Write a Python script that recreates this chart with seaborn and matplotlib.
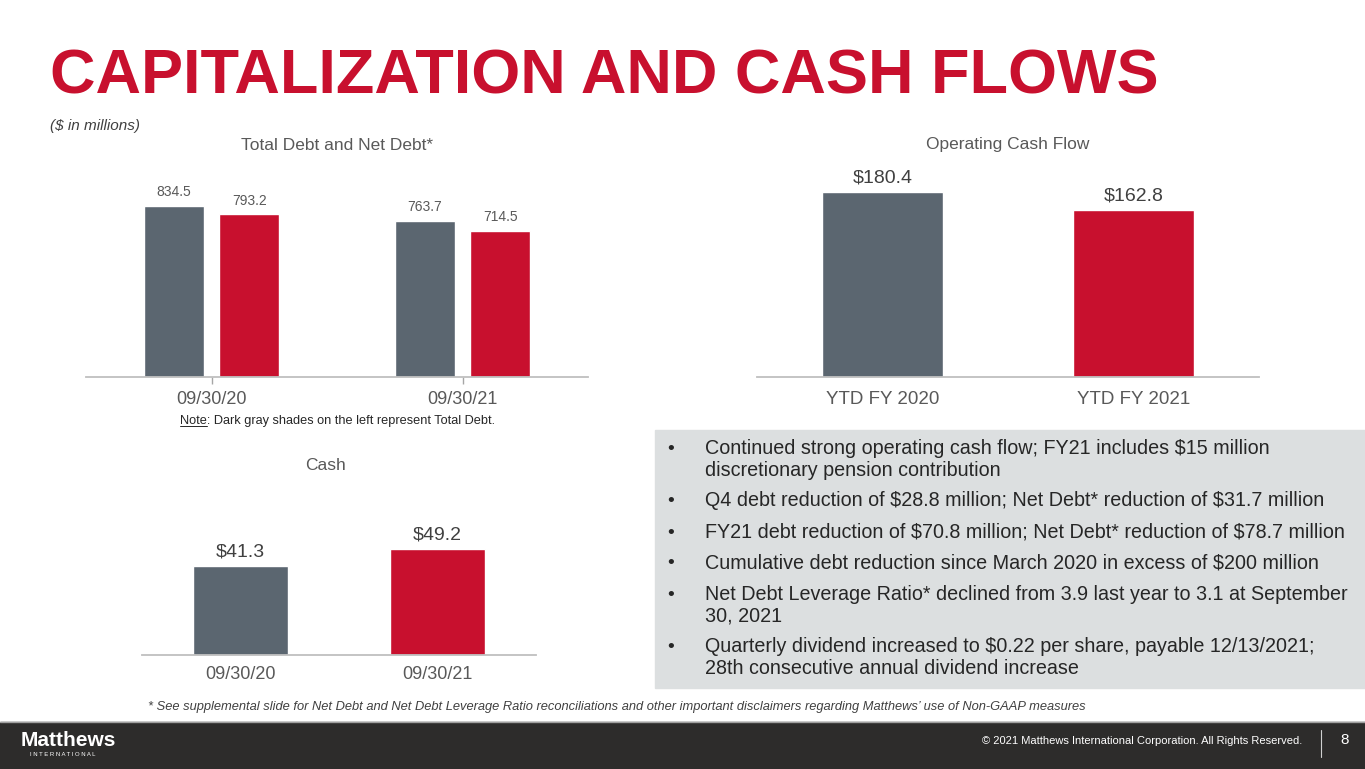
import numpy as np
import pandas as pd
import matplotlib.pyplot as plt
import seaborn as sns

# ---- data ----
debt_dates = ["09/30/20", "09/30/21"]
total_debt = [834.5, 763.7]
net_debt = [793.2, 714.5]

ocf_periods = ["YTD FY 2020", "YTD FY 2021"]
ocf_values = [180.4, 162.8]

cash_dates = ["09/30/20", "09/30/21"]
cash_values = [41.3, 49.2]

bullets = [
    ["Continued strong operating cash flow; FY21 includes $15 million",
     "discretionary pension contribution"],
    ["Q4 debt reduction of $28.8 million; Net Debt* reduction of $31.7 million"],
    ["FY21 debt reduction of $70.8 million; Net Debt* reduction of $78.7 million"],
    ["Cumulative debt reduction since March 2020 in excess of $200 million"],
    ["Net Debt Leverage Ratio* declined from 3.9 last year to 3.1 at September",
     "30, 2021"],
    ["Quarterly dividend increased to $0.22 per share, payable 12/13/2021;",
     "28th consecutive annual dividend increase"],
]

GRAY = "#5b6670"
RED = "#c8102e"
TXT = "#595959"
W, H = 1365, 769

sns.set_style("white")
plt.rcParams['font.family'] = ['Liberation Sans', 'DejaVu Sans']
plt.rcParams['text.parse_math'] = False


def px(x):
    return x / W


def py(y):
    return 1 - y / H


def add_ax(fig, left, top, right, bottom):
    return fig.add_axes([px(left), py(bottom), (right - left) / W, (bottom - top) / H])


def style_ax(ax, ticks=False, pad=6):
    for s in ["top", "right", "left"]:
        ax.spines[s].set_visible(False)
    ax.spines["bottom"].set_color("#bfbfbf")
    ax.spines["bottom"].set_linewidth(1.3)
    ax.set_yticks([])
    ax.set_xlabel("")
    ax.set_ylabel("")
    ax.tick_params(axis="x", bottom=ticks, colors="#a6a6a6", labelcolor=TXT,
                   labelsize=13, length=5, width=1, pad=pad)
    ax.set_xlim(-0.5, 1.5)
    ax.patch.set_alpha(0)


fig = plt.figure(figsize=(W / 100, H / 100), dpi=100)

# ---- chart 1: total debt and net debt ----
ax1 = add_ax(fig, 86, 160, 588, 377)
debt_df = pd.DataFrame({
    "date": debt_dates * 2,
    "kind": ["Total Debt"] * 2 + ["Net Debt"] * 2,
    "value": total_debt + net_debt,
})
sns.barplot(data=debt_df, x="date", y="value", hue="kind", palette=[GRAY, RED],
            width=0.6, gap=0.2, saturation=1, legend=False, ax=ax1)
ax1.set_ylim(0, 1059)
style_ax(ax1, ticks=True, pad=5)
for c in ax1.containers:
    ax1.bar_label(c, fmt="%.1f", padding=5, fontsize=10, color=TXT)

# ---- chart 2: operating cash flow ----
ax2 = add_ax(fig, 757, 160, 1259, 377)
sns.barplot(x=ocf_periods, y=ocf_values, hue=ocf_periods, palette=[GRAY, RED],
            width=0.48, saturation=1, legend=False, ax=ax2)
ax2.set_ylim(0, 211.6)
style_ax(ax2, pad=5)
ax2.tick_params(axis="x", labelsize=13.5)
for c, v in zip(ax2.containers, ocf_values):
    ax2.bar_label(c, labels=[f"${v:.1f}"], padding=4, fontsize=14, color="#404040")

# ---- chart 3: cash ----
ax3 = add_ax(fig, 142, 490, 536, 655)
sns.barplot(x=cash_dates, y=cash_values, hue=cash_dates, palette=[GRAY, RED],
            width=0.487, saturation=1, legend=False, ax=ax3)
ax3.set_ylim(0, 76.6)
style_ax(ax3, pad=3)
for c, v in zip(ax3.containers, cash_values):
    ax3.bar_label(c, labels=[f"${v:.1f}"], padding=4, fontsize=14, color="#404040")

# ---- titles and text ----
fig.text(px(50), py(93), "CAPITALIZATION AND CASH FLOWS", fontsize=45.4,
         fontweight="bold", color=RED, va="baseline", ha="left")
fig.text(px(50), py(126), "($ in millions)", fontsize=11, style="italic",
         color="#404040", va="center")
fig.text(px(337), py(145), "Total Debt and Net Debt*", fontsize=12.5, color=TXT,
         ha="center", va="center")
fig.text(px(1008), py(145), "Operating Cash Flow", fontsize=12.5, color=TXT,
         ha="center", va="center")
fig.text(px(326), py(466), "Cash", fontsize=12.5, color=TXT, ha="center", va="center")

note = fig.text(px(338), py(421), "Note: Dark gray shades on the left represent Total Debt.",
                fontsize=9.2, color="#262626", ha="center", va="center")
renderer = fig.canvas.get_renderer()
nb = note.get_window_extent(renderer)
probe = fig.text(0, 0, "Note", fontsize=9.2, alpha=0)
nw = probe.get_window_extent(renderer).width
probe.remove()
fig.add_artist(plt.Line2D([nb.x0 / W, (nb.x0 + nw) / W], [(nb.y0 + 1) / H] * 2,
                          color="#262626", lw=0.7))

# bullet box
fig.add_artist(plt.Rectangle((px(655), py(688)), (W - 655) / W, (688 - 430) / H,
                             color="#dcdfe0", zorder=0))
y = 448
for item in bullets:
    fig.text(px(667), py(y + 1), "•", fontsize=14, color="#262626", va="center")
    for line in item:
        fig.text(px(705), py(y), line, fontsize=14.2, color="#262626", va="center")
        y += 22
    y += 9

fig.text(px(148), py(707),
         "* See supplemental slide for Net Debt and Net Debt Leverage Ratio reconciliations "
         "and other important disclaimers regarding Matthews\u2019 use of Non-GAAP measures",
         fontsize=9.27, style="italic", color="#404040", va="center")

# footer
fig.add_artist(plt.Rectangle((0, 0), 1, (H - 722) / H, color="#2d2c2b", zorder=0))
fig.add_artist(plt.Line2D([0, 1], [py(721.5)] * 2, color="#a0a0a0", lw=1))
fig.text(px(21), py(740), "Matthews", fontsize=15, fontweight="bold", color="white",
         va="center")
fig.text(px(30), py(755), "I N T E R N A T I O N A L", fontsize=4.3, color="white",
         va="center")
fig.text(px(1302), py(741), "\u00a9 2021 Matthews International Corporation. All Rights Reserved.",
         fontsize=8, color="white", ha="right", va="center")
fig.add_artist(plt.Line2D([px(1321)] * 2, [py(730), py(757)], color="#d0d0d0", lw=0.8))
fig.text(px(1345), py(740), "8", fontsize=11, color="white", ha="center", va="center")

fig.savefig("out.png", dpi=100)
